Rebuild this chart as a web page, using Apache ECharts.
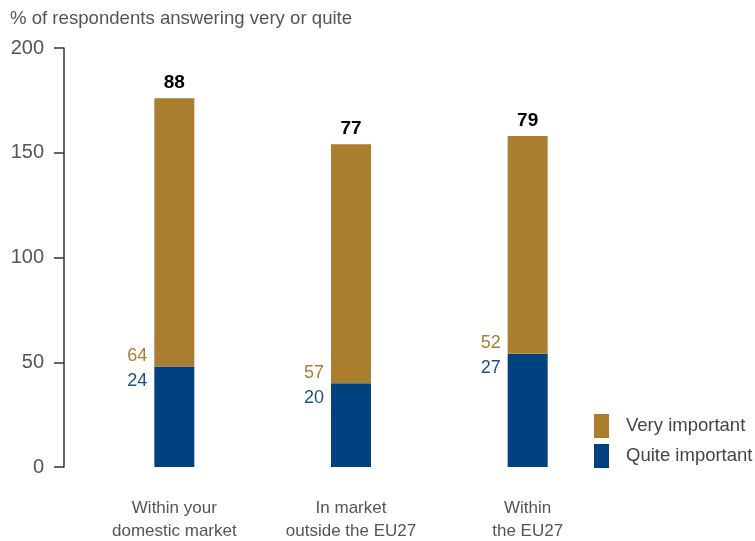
<!DOCTYPE html>
<html><head><meta charset="utf-8">
<script src="https://cdn.jsdelivr.net/npm/echarts@6/dist/echarts.min.js"></script>
<style>html,body{margin:0;padding:0;background:#fff}#c{width:755px;height:541px}</style>
</head><body><div id="c"></div>
<script>
const categories = ['Within your\ndomestic market', 'In market\noutside the EU27', 'Within\nthe EU27'];
const quite = [24, 20, 27];
const very = [64, 57, 52];
const totals = [88, 77, 79];
const yTicks = [0, 50, 100, 150, 200];
const seriesNames = ['Very important', 'Quite important'];
const GOLD = '#A97F2F', BLUE = '#00417F';
const chart = echarts.init(document.getElementById('c'));
chart.setOption({
  animation: false,
  title: { text: '% of respondents answering very or quite', left: 10, top: 9, padding: 0,
    textStyle: { fontFamily: 'Liberation Sans', fontSize: 18.6, fontWeight: 'normal', color: '#555' } },
  legend: { data: [seriesNames[0], seriesNames[1]], orient: 'vertical', left: 594, top: 414, padding: 0,
    itemWidth: 15, itemHeight: 24, itemGap: 6, icon: 'rect',
    textStyle: { fontFamily: 'Liberation Sans', fontSize: 18.5, color: '#444', padding: [0, 0, 0, 12] } },
  grid: { left: 86, width: 530, top: 48, bottom: 74, containLabel: false, outerBoundsMode: 'none' },
  xAxis: { type: 'category', data: categories,
    axisLine: { show: false }, axisTick: { show: false },
    axisLabel: { margin: 30, fontFamily: 'Liberation Sans', fontSize: 17, lineHeight: 23, color: '#555' } },
  yAxis: { type: 'value', min: 0, max: 100, interval: 25, offset: 22,
    splitLine: { show: false },
    axisLine: { show: true, lineStyle: { color: '#333', width: 1.5 } },
    axisTick: { show: true, length: 10, lineStyle: { color: '#333', width: 1.5 } },
    axisLabel: { margin: 20, fontFamily: 'Liberation Sans', fontSize: 20, color: '#555',
      formatter: v => String(yTicks[Math.round(v / 25)] !== undefined ? yTicks[Math.round(v / 25)] : v * 2) } },
  series: [
    { name: seriesNames[1], type: 'bar', stack: 's', barWidth: 40, data: quite,
      itemStyle: { color: BLUE },
      label: { show: true, position: [-7, 2], align: 'right', verticalAlign: 'middle',
        formatter: p => '{g|' + very[p.dataIndex] + '}\n{b|' + p.value + '}',
        rich: { g: { color: GOLD, fontSize: 18, lineHeight: 25, fontFamily: 'Liberation Sans' },
                b: { color: '#1F4E8C', fontSize: 18, lineHeight: 25, fontFamily: 'Liberation Sans' } } } },
    { name: seriesNames[0], type: 'bar', stack: 's', barWidth: 40, data: very,
      itemStyle: { color: GOLD },
      label: { show: true, position: 'top', distance: 6, color: '#000', fontWeight: 'bold', fontSize: 19,
        fontFamily: 'Liberation Sans', formatter: p => String(totals[p.dataIndex]) } }
  ]
});
</script></body></html>
